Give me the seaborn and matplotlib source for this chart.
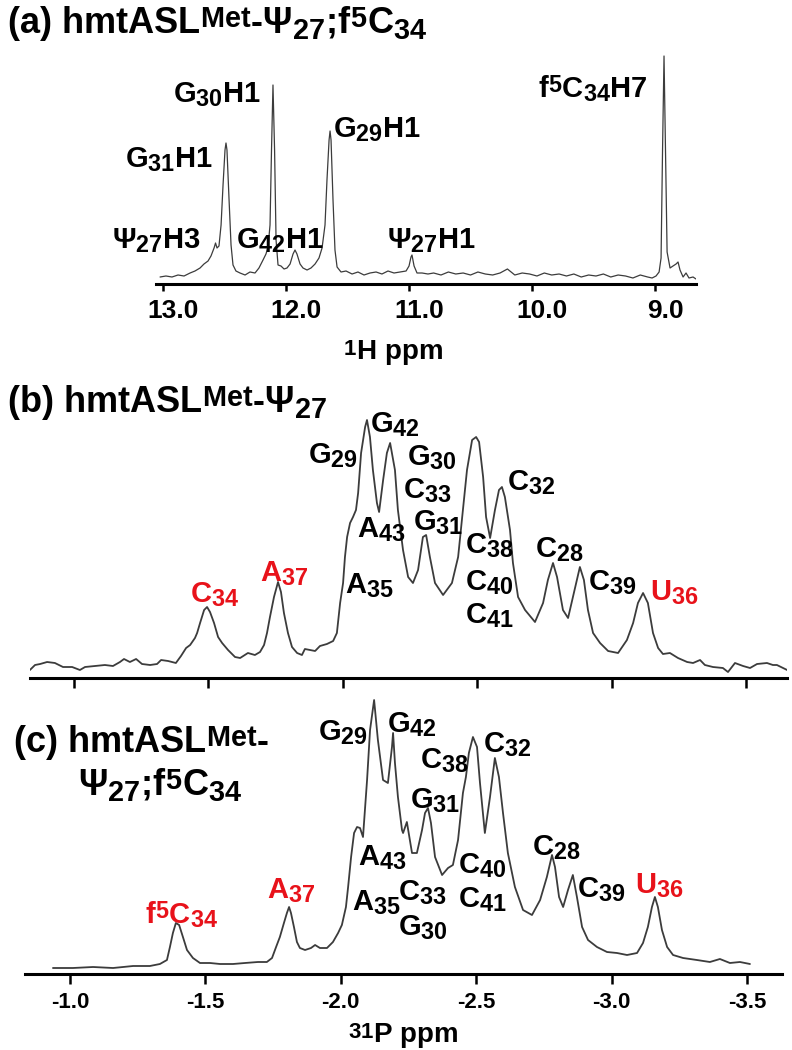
import matplotlib
matplotlib.use("Agg")
import matplotlib.pyplot as plt
import matplotlib._mathtext as mathtext_mod
import matplotlib.transforms as mtransforms
import seaborn as sns

# subscripts in the original are bigger and superscripts sit lower than mathtext default
mathtext_mod.SHRINK_FACTOR = 0.8
mathtext_mod.FontConstantsBase.subdrop = 0.6
mathtext_mod.FontConstantsBase.sup1 = 0.3

# ---- panel (a): 1H imino region, hmtASL-Met Psi27;f5C34 ----
a_ppm = [13.024, 12.976, 12.927, 12.878, 12.829, 12.780, 12.740, 12.699, 12.667, 12.634,
         12.610, 12.585, 12.573, 12.561, 12.545, 12.528, 12.512, 12.496, 12.488, 12.480,
         12.463, 12.447, 12.431, 12.407, 12.374, 12.333, 12.293, 12.252, 12.220, 12.187,
         12.163, 12.146, 12.130, 12.118, 12.106, 12.093, 12.081, 12.065, 12.041, 12.016,
         11.992, 11.967, 11.943, 11.927, 11.911, 11.886, 11.862, 11.829, 11.797, 11.764,
         11.732, 11.707, 11.683, 11.667, 11.650, 11.642, 11.634, 11.618, 11.602, 11.585,
         11.553, 11.512, 11.463, 11.415, 11.366, 11.317, 11.268, 11.220, 11.171, 11.122,
         11.073, 11.024, 11.000, 10.984, 10.976, 10.959, 10.935, 10.894, 10.846,
         10.80, 10.74, 10.68, 10.62, 10.56, 10.50, 10.44, 10.38, 10.32, 10.26,
         10.20, 10.14, 10.08, 10.02, 9.96, 9.90, 9.84, 9.78, 9.72, 9.66,
         9.60, 9.54, 9.48, 9.42, 9.36, 9.30, 9.24, 9.18, 9.12, 9.06,
         9.024, 8.992, 8.967, 8.951, 8.939, 8.927, 8.915, 8.902, 8.878, 8.854,
         8.829, 8.813, 8.797, 8.772, 8.748, 8.724, 8.691, 8.667]
a_int = [7, 8, 7, 9, 8, 11, 13, 16, 20, 23,
         28, 36, 41, 36, 38, 59, 99, 134, 141, 134,
         84, 39, 19, 13, 11, 9, 12, 11, 16, 24,
         30, 37, 59, 134, 199, 134, 44, 19, 18, 15,
         16, 20, 30, 34, 30, 20, 16, 14, 16, 20,
         26, 36, 59, 104, 144, 153, 144, 84, 34, 17,
         12, 13, 10, 12, 9, 11, 12, 10, 13, 11,
         12, 13, 18, 27, 29, 18, 11, 11, 10,
         11, 9, 12, 10, 11, 9, 12, 10, 9, 11,
         15, 9, 11, 10, 8, 11, 9, 10, 8, 10,
         7, 9, 8, 10, 7, 9, 8, 6, 9, 7,
         6, 8, 12, 26, 134, 228, 134, 32, 16, 18,
         20, 22, 14, 7, 11, 6, 7, 5]

# ---- panel (b): 31P spectrum, hmtASL-Met Psi27 ----
b_ppm = [-0.836, -0.855, -0.874, -0.900, -0.929, -0.959, -0.993, -1.022, -1.041, -1.078,
         -1.115, -1.145, -1.171, -1.186, -1.208, -1.231, -1.253, -1.283, -1.309, -1.324,
         -1.350, -1.379, -1.398, -1.417, -1.432, -1.450, -1.458, -1.469, -1.484, -1.495,
         -1.506, -1.521, -1.536, -1.551, -1.573, -1.599, -1.618, -1.647, -1.673, -1.692,
         -1.707, -1.718, -1.729, -1.744, -1.759, -1.770, -1.781, -1.796, -1.811, -1.830,
         -1.848, -1.859, -1.878, -1.897, -1.915, -1.941, -1.964, -1.978, -1.990, -2.001,
         -2.008, -2.016, -2.027, -2.038, -2.049, -2.057, -2.068, -2.083, -2.090, -2.101,
         -2.112, -2.127, -2.135, -2.150, -2.164, -2.176, -2.194, -2.205, -2.224, -2.243,
         -2.261, -2.280, -2.298, -2.310, -2.324, -2.343, -2.373, -2.406, -2.429, -2.447,
         -2.462, -2.481, -2.496, -2.507, -2.522, -2.533, -2.548, -2.566, -2.581, -2.592,
         -2.603, -2.622, -2.633, -2.652, -2.678, -2.715, -2.745, -2.763, -2.782, -2.797,
         -2.819, -2.838, -2.856, -2.882, -2.897, -2.912, -2.931, -2.957, -2.987, -3.024,
         -3.057, -3.080, -3.098, -3.117, -3.135, -3.154, -3.173, -3.191, -3.217, -3.247,
         -3.281, -3.303, -3.329, -3.347, -3.377, -3.414, -3.433, -3.459, -3.489, -3.515,
         -3.541, -3.578, -3.600, -3.615, -3.653]
b_int = [8, 13, 14, 16, 15, 11, 11, 8, 11, 12,
         13, 12, 16, 19, 16, 19, 14, 13, 14, 18,
         17, 15, 22, 30, 33, 40, 45, 55, 68, 71,
         66, 55, 41, 35, 28, 21, 20, 25, 23, 26,
         33, 45, 61, 81, 96, 86, 65, 45, 31, 25,
         23, 29, 28, 27, 32, 34, 37, 45, 75, 95,
         121, 141, 155, 161, 168, 185, 225, 251, 258, 241,
         208, 175, 166, 198, 225, 235, 208, 168, 128, 101,
         95, 108, 141, 143, 121, 95, 83, 95, 121, 168,
         208, 238, 241, 236, 201, 161, 140, 168, 188, 191,
         181, 148, 115, 81, 68, 56, 75, 98, 115, 101,
         68, 60, 81, 111, 98, 68, 45, 35, 27, 25,
         38, 55, 75, 85, 75, 45, 30, 24, 25, 20,
         16, 15, 18, 13, 11, 10, 6, 15, 12, 10,
         14, 15, 13, 13, 8]

# ---- panel (c): 31P spectrum, hmtASL-Met Psi27;f5C34 ----
c_ppm = [-0.937, -1.011, -1.085, -1.159, -1.233, -1.295, -1.332, -1.358, -1.369, -1.380,
         -1.391, -1.403, -1.417, -1.432, -1.454, -1.480, -1.517, -1.554, -1.602, -1.646,
         -1.694, -1.727, -1.746, -1.761, -1.775, -1.790, -1.801, -1.809, -1.816, -1.827,
         -1.838, -1.849, -1.868, -1.890, -1.905, -1.923, -1.949, -1.971, -1.990, -2.004,
         -2.019, -2.027, -2.038, -2.049, -2.060, -2.071, -2.082, -2.097, -2.108, -2.123,
         -2.137, -2.156, -2.174, -2.189, -2.193, -2.200, -2.211, -2.226, -2.230, -2.244,
         -2.263, -2.281, -2.300, -2.311, -2.322, -2.333, -2.348, -2.374, -2.396, -2.414,
         -2.433, -2.451, -2.462, -2.473, -2.488, -2.503, -2.514, -2.532, -2.551, -2.569,
         -2.584, -2.599, -2.617, -2.643, -2.673, -2.706, -2.736, -2.761, -2.780, -2.791,
         -2.806, -2.821, -2.839, -2.857, -2.872, -2.891, -2.913, -2.946, -2.983, -3.020,
         -3.057, -3.094, -3.116, -3.134, -3.149, -3.160, -3.171, -3.186, -3.205, -3.227,
         -3.264, -3.315, -3.363, -3.400, -3.437, -3.474, -3.511]
c_int = [6, 6, 7, 6, 8, 8, 10, 14, 27, 41,
         51, 49, 37, 24, 16, 11, 11, 10, 10, 11,
         12, 12, 16, 27, 37, 51, 61, 67, 61, 47,
         32, 26, 24, 26, 29, 26, 26, 32, 41, 49,
         67, 87, 117, 141, 147, 146, 137, 194, 244, 274,
         234, 194, 191, 227, 241, 211, 177, 144, 141, 152,
         121, 121, 144, 161, 166, 151, 117, 99, 106, 109,
         134, 181, 197, 221, 237, 227, 191, 141, 177, 216,
         197, 161, 121, 87, 64, 59, 74, 97, 119, 107,
         77, 67, 84, 99, 77, 47, 34, 27, 22, 21,
         19, 21, 31, 47, 67, 77, 67, 44, 27, 19,
         16, 14, 12, 15, 11, 12, 10]

p_ticks = [-1.0, -1.5, -2.0, -2.5, -3.0, -3.5]
p_ticklabels = ["-1.0", "-1.5", "-2.0", "-2.5", "-3.0", "-3.5"]
h_ticks = [13.0, 12.0, 11.0, 10.0, 9.0]
h_ticklabels = ["13.0", "12.0", "11.0", "10.0", "9.0"]

sns.set_theme(style="white")
plt.rcParams["font.family"] = ["Liberation Sans", "DejaVu Sans"]
plt.rcParams["font.weight"] = "bold"
plt.rcParams["axes.unicode_minus"] = False

W, H = 792, 1050
fig = plt.figure(figsize=(W / 100, H / 100), dpi=100)
line_col = "#3c3c3c"
red = "#e8121a"
LAB = 21


def px_axes(left, top, right, bottom):
    return fig.add_axes([left / W, 1 - bottom / H, (right - left) / W, (bottom - top) / H])


def lab(s, x, y, size=LAB, color="black"):
    fig.text(x / W, 1 - y / H, s, ha="left", va="baseline", fontsize=size,
             fontweight="bold", color=color)


def style_axis(ax, ticks, labels, size, tick_len):
    sns.despine(ax=ax, left=True, top=True, right=True)
    ax.spines["bottom"].set_linewidth(2.2)
    ax.spines["bottom"].set_color("black")
    ax.set_yticks([])
    ax.set_xticks(ticks)
    ax.set_xticklabels(labels, fontsize=size, fontweight="bold", color="black")
    ax.tick_params(axis="x", direction="out", length=tick_len, width=1.8,
                   color="black", pad=6, bottom=True)
    ax.set_xlabel("")
    ax.set_ylabel("")
    ax.grid(False)


# panel a
ax_a = px_axes(156, 40, 696, 284)
sns.lineplot(x=a_ppm, y=a_int, ax=ax_a, color=line_col, linewidth=0.9,
             sort=False, estimator=None)
ax_a.set_xlim(13.057, 8.667)
ax_a.set_ylim(0, 244)
style_axis(ax_a, h_ticks, h_ticklabels, 19, 5)
# tick labels in the original sit a little right of their ticks
shift = mtransforms.ScaledTranslation(0.10, 0, fig.dpi_scale_trans)
for t in ax_a.get_xticklabels():
    t.set_transform(t.get_transform() + shift)

# panel b
ax_b = px_axes(30, 400, 787, 678)
sns.lineplot(x=b_ppm, y=b_int, ax=ax_b, color=line_col, linewidth=1.3,
             sort=False, estimator=None)
ax_b.set_xlim(-0.8363, -3.6525)
ax_b.set_ylim(0, 278)
style_axis(ax_b, p_ticks, [""] * len(p_ticks), 16, 7)

# panel c
ax_c = px_axes(25, 690, 782, 974)
sns.lineplot(x=c_ppm, y=c_int, ax=ax_c, color=line_col, linewidth=1.3,
             sort=False, estimator=None)
ax_c.set_xlim(-0.8338, -3.6293)
ax_c.set_ylim(0, 284)
style_axis(ax_c, p_ticks, p_ticklabels, 16, 7)

# titles
lab(r"(a) $\mathregular{hmtASL^{Met}}$-$\mathregular{Ψ_{27}}$;$\mathregular{f^{5}C_{34}}$", 7, 33, 26)
lab(r"(b) $\mathregular{hmtASL^{Met}}$-$\mathregular{Ψ_{27}}$", 7, 412, 26)
lab(r"(c) $\mathregular{hmtASL^{Met}}$-", 13, 752, 26)
lab(r"$\mathregular{Ψ_{27}}$;$\mathregular{f^{5}C_{34}}$", 78, 795, 26)

# axis labels
lab(r"$\mathregular{^{1}H}$ ppm", 343, 360, 20)
lab(r"$\mathregular{^{31}P}$ ppm", 348, 1043, 20)

# panel a peak labels
lab(r"$\mathregular{G_{30}H1}$", 173, 102)
lab(r"$\mathregular{G_{31}H1}$", 125, 167)
lab(r"$\mathregular{G_{29}H1}$", 333, 137)
lab(r"$\mathregular{f^{5}C_{34}H7}$", 538, 97)
lab(r"$\mathregular{Ψ_{27}H3}$", 112, 248)
lab(r"$\mathregular{G_{42}H1}$", 236, 248)
lab(r"$\mathregular{Ψ_{27}H1}$", 387, 248)

# panel b peak labels
lab(r"$\mathregular{C_{34}}$", 190, 602, color=red)
lab(r"$\mathregular{A_{37}}$", 260, 581, color=red)
lab(r"$\mathregular{U_{36}}$", 650, 600, color=red)
for s, x, y in [("G_{29}", 308, 463), ("A_{43}", 357, 537), ("A_{35}", 345, 593),
                ("G_{42}", 370, 432), ("G_{30}", 407, 465), ("C_{33}", 403, 498),
                ("G_{31}", 413, 530), ("C_{38}", 465, 553), ("C_{40}", 465, 590),
                ("C_{41}", 465, 623), ("C_{32}", 507, 490), ("C_{28}", 535, 557),
                ("C_{39}", 588, 590)]:
    lab(r"$\mathregular{" + s + "}$", x, y)

# panel c peak labels
lab(r"$\mathregular{f^{5}C_{34}}$", 145, 923, color=red)
lab(r"$\mathregular{A_{37}}$", 267, 898, color=red)
lab(r"$\mathregular{U_{36}}$", 635, 893, color=red)
for s, x, y in [("G_{29}", 318, 740), ("G_{42}", 387, 732), ("C_{38}", 420, 768),
                ("C_{32}", 483, 752), ("G_{31}", 410, 808), ("A_{43}", 358, 865),
                ("A_{35}", 352, 910), ("C_{33}", 398, 900), ("G_{30}", 398, 935),
                ("C_{40}", 458, 873), ("C_{41}", 458, 907), ("C_{28}", 532, 855),
                ("C_{39}", 577, 897)]:
    lab(r"$\mathregular{" + s + "}$", x, y)

fig.savefig("out.png", dpi=100)
